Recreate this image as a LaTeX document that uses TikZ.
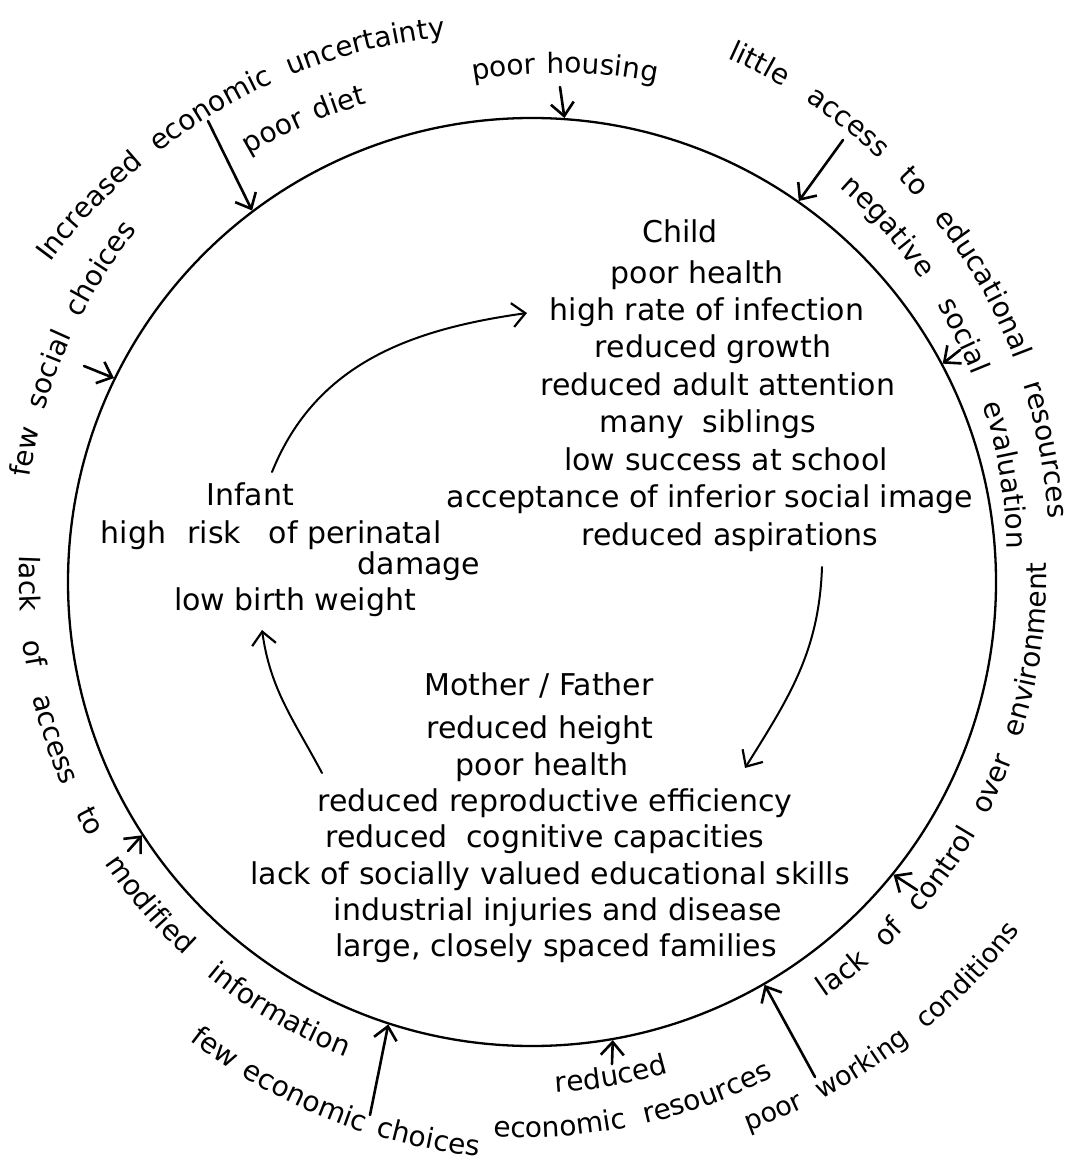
\documentclass[tikz,border=0pt]{standalone}
\usepackage{fontspec}
\setmainfont{DejaVu Sans}
\usetikzlibrary{arrows.meta,decorations.text}

\newcommand\ringfont{\fontsize{14}{16}\selectfont}
\newcommand\ringfontsmall{\fontsize{13.4}{16}\selectfont}
% text set along a spiral arc round the centre:
% [alignment] start angle, end angle, start radius, end radius, text
\newcommand\ringtext[6][fit to path stretching spaces]{%
  \path[shift={(532,-582)}, decorate,
        decoration={text along path, text align={#1},
                    text={|\ringfont|#6}}]
    plot[domain=#2:#3, samples=90] (\x:{#4+(#5-#4)*(\x-(#2))/((#3)-(#2))});%
}

\tikzset{
  itext/.style={font=\fontsize{15}{18}\selectfont, anchor=base, inner sep=0pt},
  ringline/.style={draw, circle, minimum size=464pt, inner sep=0pt, line width=1.15pt},
  inflow/.style={line width=1.3pt, line cap=round, -{Straight Barb[length=6.5pt,width=11.5pt,line width=1.3pt]}},
  cycle/.style={line width=1pt, line cap=round, -{Straight Barb[length=6.5pt,width=12pt,line width=1.1pt]}},
}

\begin{document}
\begin{tikzpicture}[x=0.5pt, y=0.5pt]
\fill[white] (0,0) rectangle (1084,-1165);
\useasboundingbox (0,0) rectangle (1084,-1165);

% the big ring
\node[ringline] (ring) at (532,-582) {};

% Child
\node[itext] (ch0) at (680,-243) {Child};
\node[itext] (ch1) at (697,-284) {poor health};
\node[itext] (ch2) at (707,-321) {high rate of infection};
\node[itext] (ch3) at (713,-358) {reduced growth};
\node[itext] (ch4) at (718,-395) {reduced adult attention};
\node[itext] (ch5) at (708,-432) {many\hspace{0.3em} siblings};
\node[itext] (ch6) at (726,-470) {low success at school};
\node[itext] (ch7) at (710,-507) {acceptance of inferior social image};
\node[itext] (ch8) at (730,-545) {reduced aspirations};

% Infant
\node[itext] (in0) at (250,-505) {Infant};
\node[itext] (in1) at (271,-543) {high\hspace{0.4em} risk\hspace{0.6em} of perinatal};
\node[itext] (in2) at (419,-574) {damage};
\node[itext] (in3) at (295,-610) {low birth weight};

% Mother / Father
\node[itext] (pa0) at (539,-695) {Mother / Father};
\node[itext] (pa1) at (540,-738) {reduced height};
\node[itext] (pa2) at (542,-775) {poor health};
\node[itext] (pa3) at (555,-811) {reduced reproductive efficiency};
\node[itext] (pa4) at (545,-847) {reduced\hspace{0.3em} cognitive capacities};
\node[itext] (pa5) at (550,-884) {lack of socially valued educational skills};
\node[itext] (pa6) at (558,-920) {industrial injuries and disease};
\node[itext] (pa7) at (556,-956) {large, closely spaced families};

% ends of the cycle arrows
\coordinate (infOut) at (272,-472);
\coordinate (chIn) at (527,-313);
\coordinate (chOut) at (822,-567);
\coordinate (paIn) at (745,-768);
\coordinate (paOut) at (322,-773);
\coordinate (infIn) at (262,-630);

\draw[cycle] (infOut) to[out=68,in=188] (chIn);
\draw[cycle] (chOut) to[out=-92,in=58] (paIn);
\draw[cycle] (paOut) to[out=118,in=-82] (infIn);

% outer influences
\ringtext{146.5}{99}{578}{552}{Increased economic uncertainty}
\ringtext{123.5}{109}{513}{506}{poor diet}
\ringtext{96.7}{76}{505}{515}{poor housing}
\ringtext{69.5}{7}{559}{520}{little access to educational resources}
\ringtext{52}{4}{500}{476}{negative social evaluation}
\ringtext{-54.8}{2.2}{508}{515}{lack of control over environment}
\path[shift={(532,-582)}, decorate,
      decoration={text along path, text align={fit to path stretching spaces},
                  text={|\ringfontsmall|poor working conditions}}]
  plot[domain=-68.5:-35.5, samples=90] (\x:{590+10*(\x+68.5)/33});
\ringtext[center]{-86.9}{-74.9}{511}{510}{reduced}
\ringtext{-94}{-64}{556}{551}{economic resources}
\ringtext{233.2}{264.7}{572}{577}{few economic choices}
\ringtext{177}{248.6}{513}{510}{lack of access to modified information}
\ringtext{168.3}{138.3}{513}{529}{few social choices}

% tails of the inward arrows
\coordinate (tDiet) at (208,-121);
\coordinate (tHousing) at (560,-87);
\coordinate (tEdu) at (843,-140);
\coordinate (tSocial) at (960,-350);
\coordinate (tControl) at (917,-890);
\coordinate (tWork) at (815,-1077);
\coordinate (tReduced) at (612,-1064);
\coordinate (tChoices) at (370,-1115);
\coordinate (tInfo) at (128,-851);
\coordinate (tFewSoc) at (84,-366);

\draw[inflow] (tDiet) -- (ring.127);
\draw[inflow] (tHousing) -- (ring.86.5);
\draw[inflow] (tEdu) -- (ring.55);
\draw[inflow] (tSocial) -- (ring.28);
\draw[inflow] (tControl) -- (ring.-39);
\draw[inflow] (tWork) -- (ring.-60);
\draw[inflow] (tReduced) -- (ring.-80);
\draw[inflow] (tChoices) -- (ring.252.5);
\draw[inflow] (tInfo) -- (ring.213.5);
\draw[inflow] (tFewSoc) -- (ring.154.5);
\end{tikzpicture}
\end{document}
